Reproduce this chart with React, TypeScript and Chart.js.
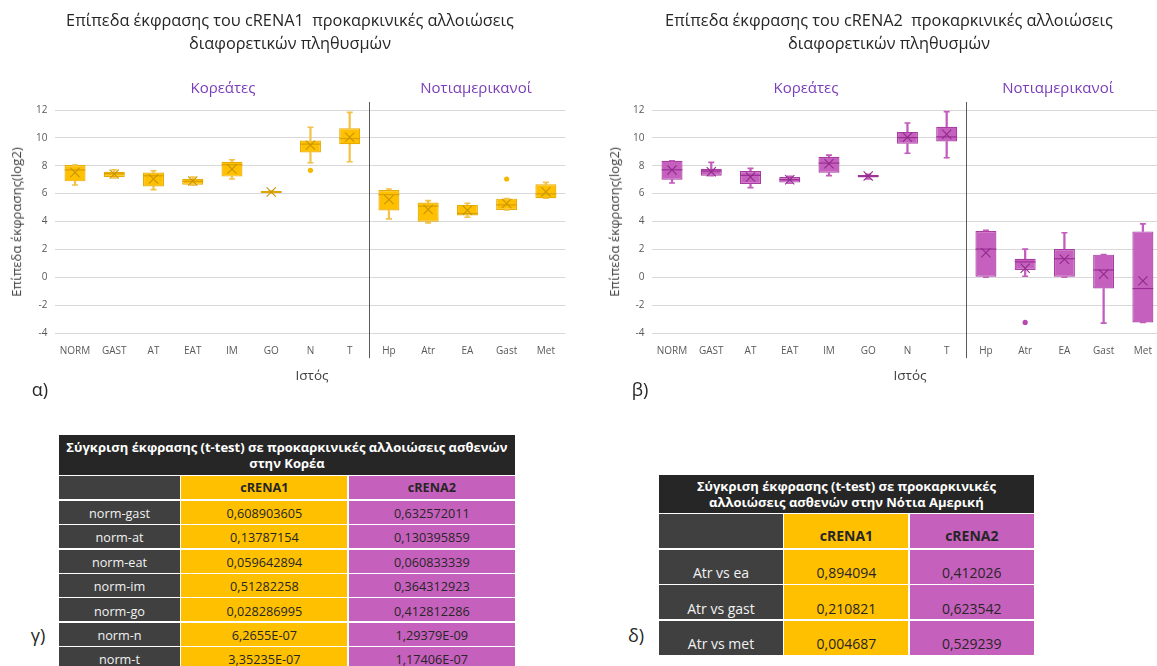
import React, { useEffect, useRef } from "react";
import { Chart, registerables } from "chart.js";
Chart.register(...registerables);

const FONT = "'Open Sans', 'Noto Sans', sans-serif";

const categories = ["NORM", "GAST", "AT", "EAT", "IM", "GO", "N", "T", "Hp", "Atr", "EA", "Gast", "Met"];
const koreanCount = 8;

// cRENA1 (α)
const c1Min = [6.62, 7.12, 6.29, 6.6, 7.05, 6.05, 8.21, 8.29, 4.19, 3.9, 4.31, 4.83, 5.67];
const c1Q1 = [6.88, 7.19, 6.52, 6.64, 7.22, 6.05, 8.95, 9.55, 4.79, 3.98, 4.43, 4.83, 5.67];
const c1Median = [7.7, 7.43, 7.28, 6.88, 8.07, 6.12, 9.55, 9.95, 5.93, 5.1, 4.57, 5.19, 5.98];
const c1Q3 = [8.05, 7.57, 7.52, 7.07, 8.29, 6.19, 9.81, 10.69, 6.26, 5.36, 5.19, 5.64, 6.67];
const c1Max = [8.05, 7.71, 7.64, 7.19, 8.43, 6.19, 10.76, 11.83, 6.33, 5.5, 5.31, 5.64, 6.81];
const c1Mean = [7.52, 7.4, 7.05, 6.9, 7.76, 6.12, 9.48, 10.05, 5.57, 4.86, 4.81, 5.29, 6.14];
const c1Outliers = [null, null, null, null, null, null, 7.67, null, null, null, null, 7.05, null];

// cRENA2 (β)
const c2Min = [6.76, 7.29, 6.43, 6.74, 7.29, 7.05, 8.9, 8.57, 0, 0.07, 0, -3.29, -3.24];
const c2Q1 = [7.0, 7.29, 6.69, 6.79, 7.5, 7.16, 9.57, 9.74, 0, 0.52, 0, -0.81, -3.24];
const c2Median = [7.71, 7.62, 7.31, 7.0, 8.19, 7.26, 10.02, 10.07, 2.02, 1.1, 1.33, 0.52, -0.81];
const c2Q3 = [8.36, 7.79, 7.62, 7.19, 8.64, 7.33, 10.43, 10.79, 3.31, 1.33, 2.02, 1.62, 3.29];
const c2Max = [8.36, 8.24, 7.81, 7.24, 8.76, 7.38, 11.07, 11.88, 3.36, 2.02, 3.19, 1.62, 3.83];
const c2Mean = [7.69, 7.57, 7.19, 7.0, 8.14, 7.26, 10.05, 10.26, 1.76, 0.64, 1.29, 0.21, -0.26];
const c2Outliers = [null, null, null, null, null, null, null, null, null, -3.24, null, null, null];

const yMin = -4;
const yMax = 12;
const yStep = 2;

// Tables
const koreaRows = ["norm-gast", "norm-at", "norm-eat", "norm-im", "norm-go", "norm-n", "norm-t"];
const koreaCRENA1 = ["0,608903605", "0,13787154", "0,059642894", "0,51282258", "0,028286995", "6,2655E-07", "3,35235E-07"];
const koreaCRENA2 = ["0,632572011", "0,130395859", "0,060833339", "0,364312923", "0,412812286", "1,29379E-09", "1,17406E-07"];
const samRows = ["Atr vs ea", "Atr vs gast", "Atr vs met"];
const samCRENA1 = ["0,894094", "0,210821", "0,004687"];
const samCRENA2 = ["0,412026", "0,623542", "0,529239"];

const GOLD = { fill: "#FFC000", border: "#E8AC00", line: "#F2C24A", median: "#D9A000", mean: "#C89400", dot: "#F5B800" };
const PURPLE = { fill: "#C660BE", border: "#A83DA2", line: "#C35CBC", median: "#9A2E95", mean: "#8E2A8A", dot: "#B848B0" };

type Series = {
  min: number[]; q1: number[]; median: number[]; q3: number[]; max: number[]; mean: number[]; outliers: (number | null)[];
};

const separatorPlugin = {
  id: "groupSeparator",
  afterDraw(chart: any) {
    const x = chart.scales.x;
    const ca = chart.chartArea;
    const px = Math.round((x.getPixelForValue(koreanCount - 1) + x.getPixelForValue(koreanCount)) / 2) + 0.5;
    const ctx = chart.ctx;
    ctx.save();
    ctx.strokeStyle = "#595959";
    ctx.lineWidth = 1;
    ctx.beginPath();
    ctx.moveTo(px, ca.top - 8);
    ctx.lineTo(px, ca.bottom + 25);
    ctx.stroke();
    ctx.restore();
  },
};

function buildConfig(s: Series, c: typeof GOLD): any {
  const box = categories.map((_, i) => [s.q1[i], s.q3[i]]);
  const wLow = categories.map((_, i) => [s.min[i], s.q1[i]]);
  const wHigh = categories.map((_, i) => [s.q3[i], s.max[i]]);
  const pointBase = { type: "line", showLine: false, borderWidth: 0, pointHoverRadius: 0 };
  return {
    type: "bar",
    data: {
      labels: categories,
      datasets: [
        { type: "bar", data: wLow, backgroundColor: c.line, borderWidth: 0, grouped: false, barThickness: 1.6, order: 7 },
        { type: "bar", data: wHigh, backgroundColor: c.line, borderWidth: 0, grouped: false, barThickness: 1.6, order: 7 },
        {
          type: "bar", data: box, backgroundColor: c.fill, borderColor: c.border, borderWidth: 1.2,
          borderSkipped: false, grouped: false, barPercentage: 0.535, categoryPercentage: 1, order: 6,
        },
        { ...pointBase, data: s.max, pointStyle: "line", pointRadius: 3, pointBorderWidth: 1.6, pointBorderColor: c.line, order: 4 },
        { ...pointBase, data: s.min, pointStyle: "line", pointRadius: 3, pointBorderWidth: 1.6, pointBorderColor: c.line, order: 4 },
        { ...pointBase, data: s.median, pointStyle: "line", pointRadius: 10.3, pointBorderWidth: 1.2, pointBorderColor: c.median, order: 3 },
        { ...pointBase, data: s.mean, pointStyle: "crossRot", pointRadius: 6.5, pointBorderWidth: 1.1, pointBorderColor: c.mean, order: 2 },
        {
          ...pointBase, data: s.outliers, pointStyle: "circle", pointRadius: 2.6, pointBorderWidth: 0,
          pointBackgroundColor: c.dot, order: 1,
        },
      ],
    },
    options: {
      responsive: false,
      animation: false,
      devicePixelRatio: 1,
      layout: { padding: { top: 110, bottom: 37, left: 0, right: 31.5 } },
      plugins: { legend: { display: false }, tooltip: { enabled: false }, title: { display: false } },
      scales: {
        x: {
          grid: { display: false, drawTicks: false },
          border: { display: false },
          ticks: { font: { family: FONT, size: 10 }, color: "#595959", padding: 12, maxRotation: 0, autoSkip: false },
          afterFit: (sc: any) => { sc.height = 30; },
        },
        y: {
          min: yMin,
          max: yMax,
          grid: { color: "#D9D9D9", lineWidth: 1, drawTicks: false },
          border: { display: false },
          ticks: { stepSize: yStep, font: { family: FONT, size: 10 }, color: "#595959", padding: 8 },
          afterFit: (sc: any) => { sc.width = 55.4; },
        },
      },
    },
    plugins: [separatorPlugin],
  };
}

function BoxChart({ series, colors, left }: { series: Series; colors: typeof GOLD; left: number }) {
  const ref = useRef<HTMLCanvasElement | null>(null);
  useEffect(() => {
    if (!ref.current) return;
    const chart = new Chart(ref.current, buildConfig(series, colors));
    return () => chart.destroy();
  }, []);
  return (
    <canvas
      ref={ref}
      width={597}
      height={400}
      style={{ position: "absolute", left, top: 0, width: 597, height: 400 }}
    />
  );
}

function Txt({ x, y, children, size, color = "#404040", weight = 400, rotate = false }: any) {
  return (
    <div
      style={{
        position: "absolute", left: x, top: y, transform: `translate(-50%, -50%)${rotate ? " rotate(-90deg)" : ""}`,
        fontFamily: FONT, fontSize: size, color, fontWeight: weight, whiteSpace: "nowrap", lineHeight: 1.2,
      }}
    >
      {children}
    </div>
  );
}

function Cell({ x, y, w, h, bg, color, text, size, bold = false, valign = "center", pad = 2 }: any) {
  return (
    <div
      style={{
        position: "absolute", left: x, top: y, width: w, height: h, background: bg, color,
        fontFamily: FONT, fontSize: size, fontWeight: bold ? 700 : 400, display: "flex",
        alignItems: valign === "bottom" ? "flex-end" : "center", justifyContent: "center", textAlign: "center",
        lineHeight: 1.25, paddingBottom: valign === "bottom" ? pad : 0, boxSizing: "border-box",
      }}
    >
      {text}
    </div>
  );
}

function PTable({ x, y, cols, headH, colHeadH, rowH, gap, title, labels, v1, v2, size, headSize, valign }: any) {
  const xs = [x, x + cols[0] + gap, x + cols[0] + cols[1] + 2 * gap];
  const totalW = cols[0] + cols[1] + cols[2] + 2 * gap;
  const cells: any[] = [];
  cells.push(<Cell key="t" x={x} y={y} w={totalW} h={headH} bg="#262626" color="#FFFFFF" text={title} size={headSize} bold />);
  const chY = y + headH + gap;
  cells.push(<Cell key="h0" x={xs[0]} y={chY} w={cols[0]} h={colHeadH} bg="#404040" color="#fff" text="" size={size} />);
  cells.push(<Cell key="h1" x={xs[1]} y={chY} w={cols[1]} h={colHeadH} bg="#FFC000" color="#262626" text="cRENA1" size={size} bold valign={valign} pad={4} />);
  cells.push(<Cell key="h2" x={xs[2]} y={chY} w={cols[2]} h={colHeadH} bg="#C660BD" color="#262626" text="cRENA2" size={size} bold valign={valign} pad={4} />);
  labels.forEach((lab: string, i: number) => {
    const ry = chY + colHeadH + gap + i * (rowH + gap);
    cells.push(<Cell key={"a" + i} x={xs[0]} y={ry} w={cols[0]} h={rowH} bg="#404040" color="#F2F2F2" text={lab} size={size} valign={valign} />);
    cells.push(<Cell key={"b" + i} x={xs[1]} y={ry} w={cols[1]} h={rowH} bg="#FFC000" color="#262626" text={v1[i]} size={size} valign={valign} />);
    cells.push(<Cell key={"c" + i} x={xs[2]} y={ry} w={cols[2]} h={rowH} bg="#C660BD" color="#262626" text={v2[i]} size={size} valign={valign} />);
  });
  return <>{cells}</>;
}

export default function App() {
  const s1: Series = { min: c1Min, q1: c1Q1, median: c1Median, q3: c1Q3, max: c1Max, mean: c1Mean, outliers: c1Outliers };
  const s2: Series = { min: c2Min, q1: c2Q1, median: c2Median, q3: c2Q3, max: c2Max, mean: c2Mean, outliers: c2Outliers };
  const titleSize = 16.3;
  const groupColor = "#7A3DB8";
  return (
    <div style={{ position: "absolute", left: 0, top: 0, width: 1157, height: 666, overflow: "hidden", background: "#fff" }}>
      <BoxChart series={s1} colors={GOLD} left={0} />
      <BoxChart series={s2} colors={PURPLE} left={597} />

      <Txt x={290} y={21} size={titleSize} color="#262626">Επίπεδα έκφρασης του cRENA1&nbsp; προκαρκινικές αλλοιώσεις</Txt>
      <Txt x={290} y={44} size={titleSize} color="#262626">διαφορετικών πληθυσμών</Txt>
      <Txt x={889} y={21} size={titleSize} color="#262626">Επίπεδα έκφρασης του cRENA2&nbsp; προκαρκινικές αλλοιώσεις</Txt>
      <Txt x={889} y={44} size={titleSize} color="#262626">διαφορετικών πληθυσμών</Txt>

      <Txt x={223} y={87} size={15} color={groupColor}>Κορεάτες</Txt>
      <Txt x={476} y={87} size={15} color={groupColor}>Νοτιαμερικανοί</Txt>
      <Txt x={806} y={87} size={15} color={groupColor}>Κορεάτες</Txt>
      <Txt x={1058} y={87} size={15} color={groupColor}>Νοτιαμερικανοί</Txt>

      <Txt x={17} y={222} size={13.2} rotate>Επίπεδα έκφρασης(log2)</Txt>
      <Txt x={615} y={222} size={13.2} rotate>Επίπεδα έκφρασης(log2)</Txt>
      <Txt x={312} y={375} size={13.5}>Ιστός</Txt>
      <Txt x={910} y={375} size={13.5}>Ιστός</Txt>

      <Txt x={40} y={390} size={18} color="#262626">α)</Txt>
      <Txt x={640} y={390} size={18} color="#262626">β)</Txt>
      <Txt x={38} y={636} size={18} color="#262626">γ)</Txt>
      <Txt x={636} y={636} size={18} color="#262626">δ)</Txt>

      <PTable
        x={59} y={435} cols={[121, 166, 166]} headH={40} colHeadH={23} rowH={23} gap={1.4}
        title={<span>Σύγκριση έκφρασης (t-test) σε προκαρκινικές αλλοιώσεις ασθενών<br />στην Κορέα</span>}
        labels={koreaRows} v1={koreaCRENA1} v2={koreaCRENA2} size={12.7} headSize={13} valign="bottom"
      />
      <PTable
        x={659} y={475} cols={[124, 124, 124]} headH={38} colHeadH={34} rowH={34} gap={1.4}
        title={<span>Σύγκριση έκφρασης (t-test) σε προκαρκινικές<br />αλλοιώσεις ασθενών στην Νότια Αμερική</span>}
        labels={samRows} v1={samCRENA1} v2={samCRENA2} size={14} headSize={13} valign="bottom"
      />
    </div>
  );
}
